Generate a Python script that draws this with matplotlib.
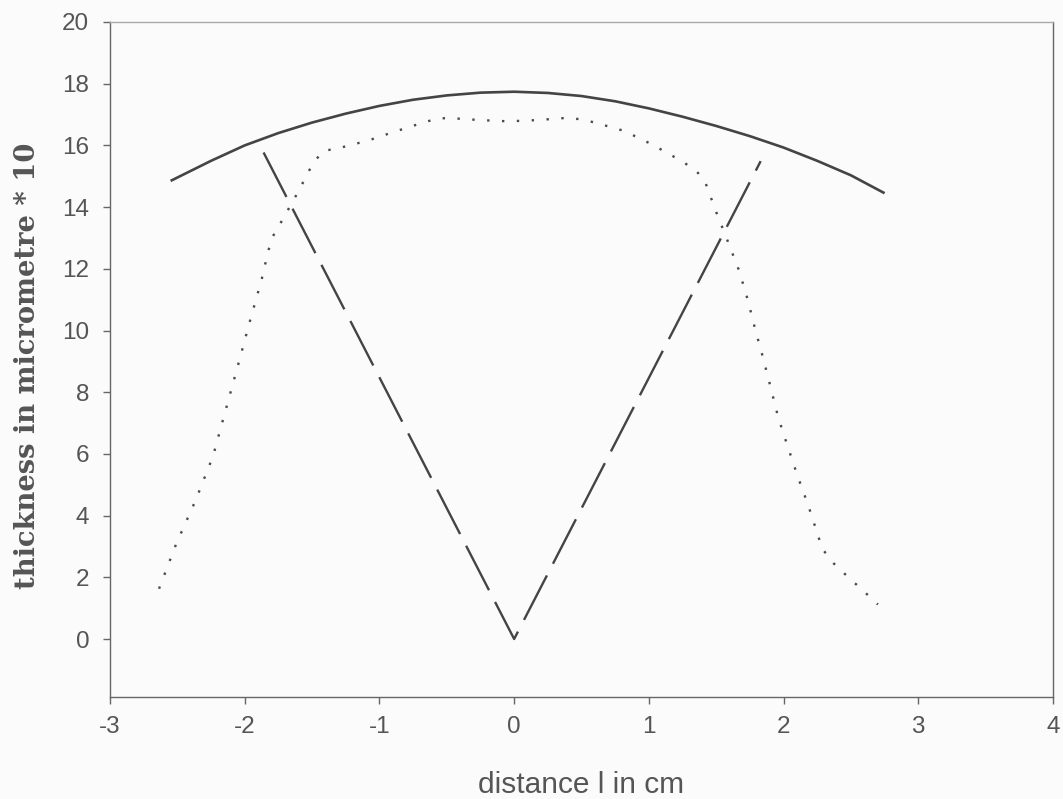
import matplotlib
matplotlib.use("Agg")
import matplotlib.pyplot as plt

# ---- data ----
solid_x = [-2.55, -2.25, -2.0, -1.75, -1.5, -1.25, -1.0, -0.75, -0.5, -0.25, 0.0,
           0.25, 0.5, 0.75, 1.0, 1.25, 1.5, 1.75, 2.0, 2.25, 2.5, 2.75]
solid_y = [14.85, 15.5, 16.0, 16.4, 16.74, 17.03, 17.28, 17.48, 17.62, 17.71, 17.74,
           17.7, 17.6, 17.43, 17.2, 16.93, 16.63, 16.3, 15.93, 15.5, 15.03, 14.45]

dashed_x = [-1.86, 0.0, 1.83]
dashed_y = [15.77, 0.0, 15.49]

dotted_x = [-2.636, -2.508, -2.364, -2.235, -2.146, -2.055, -1.966, -1.874, -1.824,
            -1.79, -1.725, -1.604, -1.491, -1.416, -1.303, -1.09, -0.884, -0.674,
            -0.563, -0.459, -0.251, -0.042, 0.168, 0.384, 0.49, 0.6, 0.816, 1.02,
            1.24, 1.35, 1.42, 1.5, 1.585, 1.669, 1.734, 1.788, 1.848, 1.905, 1.961,
            2.03, 2.105, 2.184, 2.254, 2.288, 2.37, 2.476, 2.585, 2.70]
dotted_y = [1.63, 3.09, 4.5, 5.93, 7.35, 8.79, 10.23, 11.66, 12.6,
            13.06, 13.55, 14.49, 15.44, 15.82, 15.91, 16.15, 16.45, 16.74,
            16.88, 16.88, 16.82, 16.78, 16.82, 16.89, 16.85, 16.74, 16.47, 16.04,
            15.5, 15.19, 14.79, 13.84, 12.9, 11.95, 11.0, 10.06, 9.11, 8.14, 7.17,
            6.25, 5.27, 4.32, 3.38, 2.92, 2.46, 2.02, 1.59, 1.12]

x_ticks = [-3, -2, -1, 0, 1, 2, 3, 4]
y_ticks = [0, 2, 4, 6, 8, 10, 12, 14, 16, 18, 20]
x_label = "distance l in cm"
y_label = "thickness in micrometre * 10"

# ---- figure ----
plt.rcParams['lines.scale_dashes'] = False
W, H = 1063, 799
bg = '#fbfbfb'
fig = plt.figure(figsize=(W / 100, H / 100), dpi=100, facecolor=bg)
ax = fig.add_axes([110 / W, 1 - 697 / H, (1053 - 110) / W, (697 - 22) / H], facecolor=bg)

line_col = '#444444'
ax.plot(solid_x, solid_y, color=line_col, lw=1.9, solid_capstyle='butt',
        solid_joinstyle='round')
ax.plot(dashed_x, dashed_y, color=line_col, lw=1.7, dashes=(36, 9.5),
        dash_capstyle='butt')
ax.plot(dotted_x, dotted_y, color='#4a4a4a', lw=1.7, dashes=(1.7, 9.0),
        dash_capstyle='butt')

ax.set_xlim(-3, 4)
ax.set_ylim(-1.88, 20)
ax.set_xticks(x_ticks)
ax.set_xticklabels([str(v) for v in x_ticks])
ax.set_yticks(y_ticks)
ax.set_yticklabels([str(v) for v in y_ticks])

for s in ax.spines.values():
    s.set_color('#666666')
    s.set_linewidth(1.0)
ax.spines['top'].set_color('#aaaaaa')

tick_font = 'Liberation Sans'
ax.tick_params(axis='both', direction='out', length=5, width=1, color='#666666',
               labelcolor='#555555', labelsize=17.5)
ax.tick_params(axis='y', pad=10)
ax.tick_params(axis='x', pad=9)
for lab in ax.get_xticklabels() + ax.get_yticklabels():
    lab.set_fontfamily(tick_font)

fig.text(581 / W, 1 - 793 / H, x_label, ha='center', va='baseline',
         fontsize=21.5, family='Liberation Sans', color='#555555')
fig.text(35 / W, 1 - 366 / H, y_label, rotation=90, rotation_mode='anchor',
         ha='center', va='baseline', fontsize=19.7, family='DejaVu Serif',
         weight='bold', color='#555555')

fig.savefig('out.png', dpi=100, facecolor=bg)
